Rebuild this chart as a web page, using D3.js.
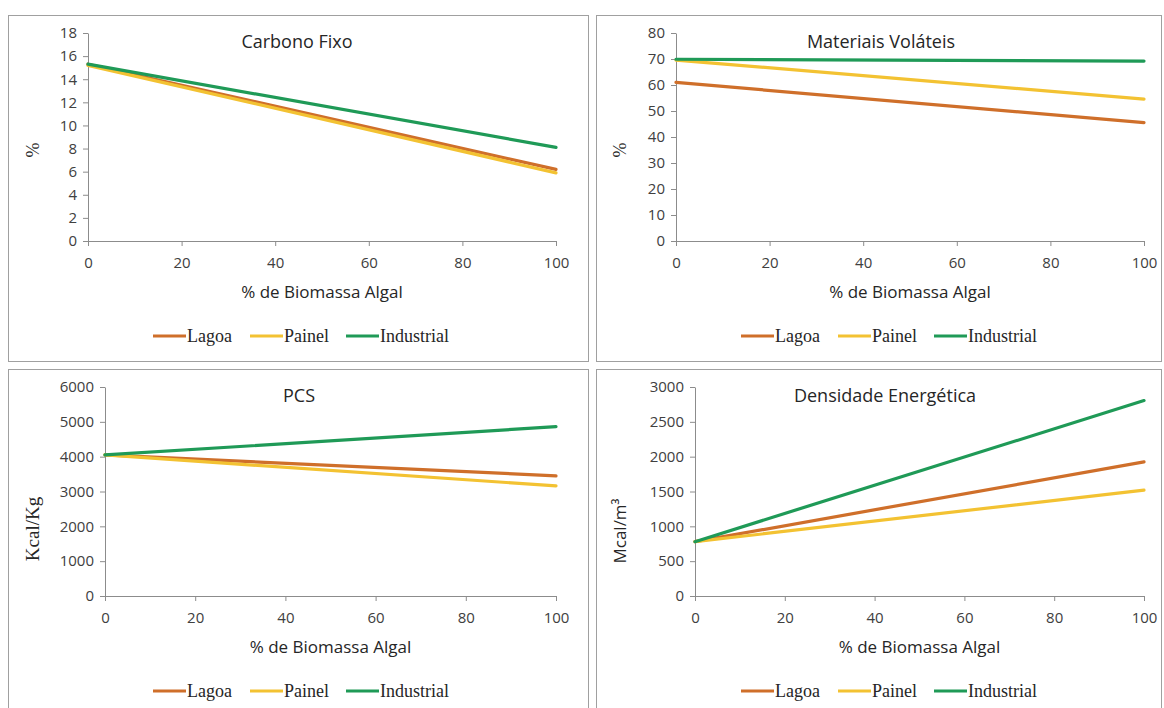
<!DOCTYPE html>
<html>
<head>
<meta charset="utf-8">
<script src="https://cdn.jsdelivr.net/npm/d3@7/dist/d3.min.js"></script>
<style>
  body { margin: 0; background: #fff; }
  svg { display: block; }
  .axis text { font-family: "Open Sans", sans-serif; font-size: 15px; fill: #404040; }
  .axis .domain, .axis .tick line { stroke: #8c8c8c; }
</style>
</head>
<body>
<div id="chart"></div>
<script>
// x values (% de biomassa algal) and the series names
var biomassa = [0, 100];
var series = ["Lagoa", "Painel", "Industrial"];
var colors = ["#cf6f2a", "#f3c232", "#1f9a57"];
var xTicks = [0, 20, 40, 60, 80, 100];

// Carbono Fixo (%)
var carbonoLagoa = [15.3, 6.2];
var carbonoPainel = [15.2, 5.9];
var carbonoIndustrial = [15.3, 8.1];
var carbonoTicks = [0, 2, 4, 6, 8, 10, 12, 14, 16, 18];

// Materiais Voláteis (%)
var volateisLagoa = [61.0, 45.5];
var volateisPainel = [69.6, 54.6];
var volateisIndustrial = [69.9, 69.2];
var volateisTicks = [0, 10, 20, 30, 40, 50, 60, 70, 80];

// PCS (Kcal/Kg)
var pcsLagoa = [4050, 3450];
var pcsPainel = [4050, 3160];
var pcsIndustrial = [4050, 4860];
var pcsTicks = [0, 1000, 2000, 3000, 4000, 5000, 6000];

// Densidade Energética (Mcal/m3)
var densLagoa = [780, 1925];
var densPainel = [780, 1520];
var densIndustrial = [780, 2805];
var densTicks = [0, 500, 1000, 1500, 2000, 2500, 3000];

var panels = [
  { title: "Carbono Fixo", ylab: "%", ylabSerif: true, ymax: 18, yticks: carbonoTicks,
    values: [carbonoLagoa, carbonoPainel, carbonoIndustrial],
    box: [8, 15, 580, 346], plot: [88, 556, 33, 241], titleX: 297, ylabX: 33, ylabY: 150, ylabSize: 18 },
  { title: "Materiais Voláteis", ylab: "%", ylabSerif: true, ymax: 80, yticks: volateisTicks,
    values: [volateisLagoa, volateisPainel, volateisIndustrial],
    box: [596, 15, 565, 346], plot: [676, 1144, 33, 241], titleX: 881, ylabX: 620, ylabY: 150, ylabSize: 18 },
  { title: "PCS", ylab: "Kcal/Kg", ylabSerif: true, ymax: 6000, yticks: pcsTicks,
    values: [pcsLagoa, pcsPainel, pcsIndustrial],
    box: [8, 369, 580, 350], plot: [105, 556, 387, 596], titleX: 299, ylabX: 32, ylabY: 529, ylabSize: 19 },
  { title: "Densidade Energética", ylab: "Mcal/m³", ylabSerif: false, ymax: 3000, yticks: densTicks,
    values: [densLagoa, densPainel, densIndustrial],
    box: [596, 369, 565, 350], plot: [695, 1144, 387, 596], titleX: 885, ylabX: 620, ylabY: 531, ylabSize: 17 }
];

var svg = d3.select("#chart").append("svg")
  .attr("width", 1164)
  .attr("height", 708);

panels.forEach(function (p) {
  var g = svg.append("g");

  g.append("rect")
    .attr("x", p.box[0] + 0.5).attr("y", p.box[1] + 0.5)
    .attr("width", p.box[2]).attr("height", p.box[3])
    .attr("fill", "#fff").attr("stroke", "#a0a0a0");

  var x = d3.scaleLinear().domain([0, 100]).range([p.plot[0], p.plot[1]]);
  var y = d3.scaleLinear().domain([0, p.ymax]).range([p.plot[3], p.plot[2]]);

  g.append("g")
    .attr("class", "axis")
    .attr("transform", "translate(0," + p.plot[3] + ")")
    .call(d3.axisBottom(x).tickValues(xTicks).tickFormat(d3.format("d"))
      .tickSize(5).tickSizeOuter(0).tickPadding(11));

  g.append("g")
    .attr("class", "axis")
    .attr("transform", "translate(" + p.plot[0] + ",0)")
    .call(d3.axisLeft(y).tickValues(p.yticks).tickFormat(d3.format("d"))
      .tickSize(5).tickSizeOuter(0).tickPadding(6));

  var line = d3.line()
    .x(function (d, i) { return x(biomassa[i]); })
    .y(function (d) { return y(d); });

  p.values.forEach(function (vals, k) {
    g.append("path")
      .datum(vals)
      .attr("d", line)
      .attr("fill", "none")
      .attr("stroke", colors[k])
      .attr("stroke-width", 3.2)
      .attr("stroke-linecap", "round");
  });

  g.append("text")
    .attr("x", p.titleX).attr("y", p.box[1] + 33)
    .attr("text-anchor", "middle")
    .style("font-family", "Open Sans, sans-serif").style("font-size", "18px").attr("fill", "#262626")
    .text(p.title);

  var cx = (p.plot[0] + p.plot[1]) / 2;
  g.append("text")
    .attr("x", cx).attr("y", p.plot[3] + 57)
    .attr("text-anchor", "middle")
    .style("font-family", "Open Sans, sans-serif").style("font-size", "17px").attr("fill", "#262626")
    .text("% de Biomassa Algal");

  g.append("text")
    .attr("transform", "translate(" + p.ylabX + "," + p.ylabY + ") rotate(-90)")
    .attr("text-anchor", "middle")
    .attr("dy", "0.35em")
    .style("font-family", p.ylabSerif ? "Liberation Serif, serif" : "Open Sans, sans-serif")
    .style("font-size", p.ylabSize + "px").attr("fill", "#262626")
    .text(p.ylab);

  // legend
  var lx = p.box[0] + 145;
  var ly = p.plot[3] + 95;
  var offsets = [0, 97, 193];
  series.forEach(function (s, k) {
    var ox = lx + offsets[k];
    g.append("line")
      .attr("x1", ox).attr("x2", ox + 33)
      .attr("y1", ly).attr("y2", ly)
      .attr("stroke", colors[k]).attr("stroke-width", 3.2);
    g.append("text")
      .attr("x", ox + 34).attr("y", ly + 6)
      .style("font-family", "Liberation Serif, serif").style("font-size", "18px").attr("fill", "#262626")
      .text(s);
  });
});
</script>
</body>
</html>
